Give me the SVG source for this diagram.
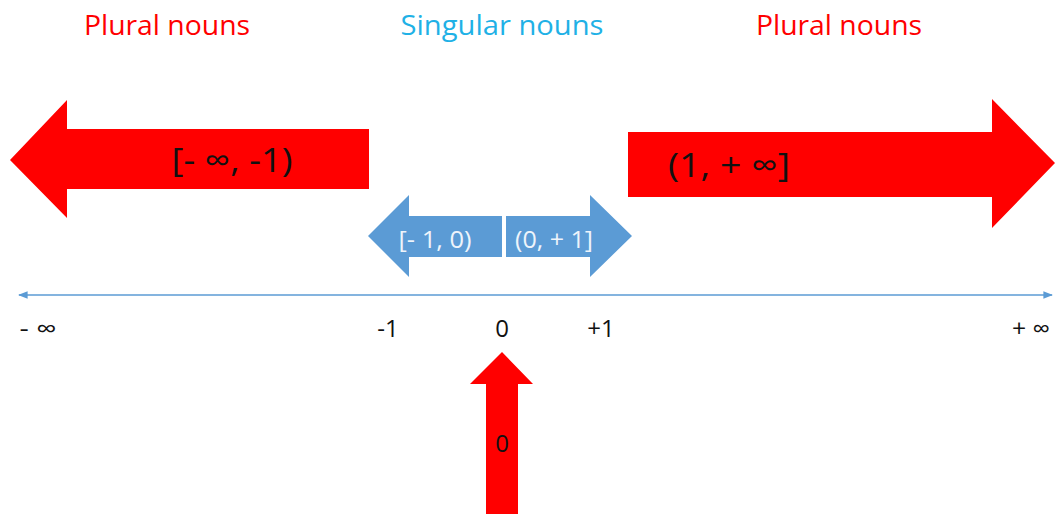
<svg xmlns="http://www.w3.org/2000/svg" width="1057" height="514" viewBox="0 0 1057 514">
  <style>
    .title { font-family: "Open Sans", "Liberation Sans", sans-serif; font-size: 28px; text-anchor: middle; }
    .red { fill: #ff0000; }
    .blue { fill: #5b9bd5; }
    .lbl { font-family: "Open Sans", "Liberation Sans", sans-serif; fill: #111; text-anchor: middle; }
    .big { font-size: 33px; }
    .mid { font-size: 24px; }
    .wht { font-family: "Open Sans", "Liberation Sans", sans-serif; font-size: 24px; fill: #eef4fb; text-anchor: middle; }
  </style>
  <defs>
    <marker id="axisHead" viewBox="0 0 10 10" refX="9" refY="5" markerWidth="6" markerHeight="6" orient="auto-start-reverse">
      <path d="M0,1 L10,5 L0,9 Z" fill="#5b9bd5"/>
    </marker>
  </defs>

  <!-- headings -->
  <text class="title red" x="167" y="35" textLength="166" lengthAdjust="spacingAndGlyphs">Plural nouns</text>
  <text class="title" x="502" y="35" fill="#1fb1e6" textLength="203" lengthAdjust="spacingAndGlyphs">Singular nouns</text>
  <text class="title red" x="839" y="35" textLength="166" lengthAdjust="spacingAndGlyphs">Plural nouns</text>

  <!-- number line -->
  <g id="connectors">
    <line x1="19" y1="295" x2="1052" y2="295" stroke="#5b9bd5" stroke-width="1.6" marker-start="url(#axisHead)" marker-end="url(#axisHead)"/>
  </g>

  <g id="neg-plural">
    <polygon class="red" points="10,160 67,100 67,129 369,129 369,189 67,189 67,218"/>
    <text class="lbl big" x="232" y="172" textLength="121" lengthAdjust="spacingAndGlyphs">[- ∞, -1)</text>
  </g>

  <g id="pos-plural">
    <polygon class="red" points="628,132 992,132 992,99 1055,163 992,228 992,197 628,197"/>
    <text class="lbl big" x="729" y="177" textLength="122" lengthAdjust="spacingAndGlyphs">(1, + ∞]</text>
  </g>

  <g id="neg-singular">
    <polygon class="blue" points="368,236 409,195 409,216 502,216 502,257 409,257 409,277"/>
    <text class="wht" x="435" y="248" textLength="73" lengthAdjust="spacingAndGlyphs">[- 1, 0)</text>
  </g>

  <g id="pos-singular">
    <polygon class="blue" points="506,216 590,216 590,195 632,236 590,277 590,257 506,257"/>
    <text class="wht" x="554" y="248" textLength="78" lengthAdjust="spacingAndGlyphs">(0, + 1]</text>
  </g>

  <g id="ticks">
    <text class="lbl mid" x="38" y="337" textLength="37" lengthAdjust="spacingAndGlyphs">- ∞</text>
    <text class="lbl mid" x="388" y="337">-1</text>
    <text class="lbl mid" x="502" y="337">0</text>
    <text class="lbl mid" x="601" y="337">+1</text>
    <text class="lbl mid" x="1031" y="337" textLength="38" lengthAdjust="spacingAndGlyphs">+ ∞</text>
  </g>

  <g id="zero">
    <polygon class="red" points="502,352 533,384 518,384 518,514 486,514 486,384 470,384"/>
    <text class="lbl mid" x="502" y="452">0</text>
  </g>
</svg>
